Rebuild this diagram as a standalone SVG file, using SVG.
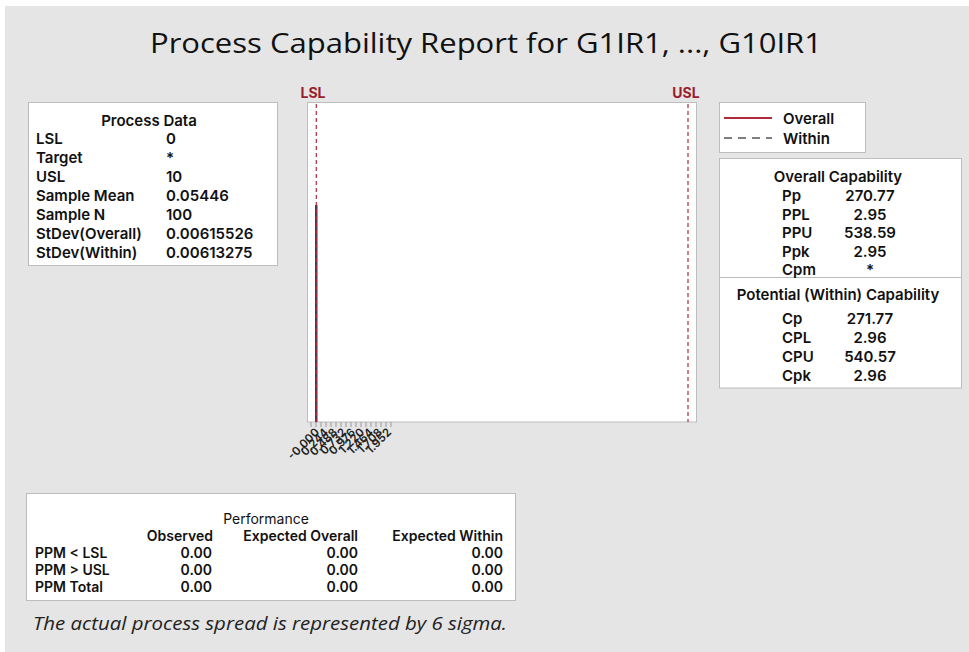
<svg xmlns="http://www.w3.org/2000/svg" width="969" height="652" viewBox="0 0 969 652">
<style>
.t{font-family:Inter,"Open Sans","Liberation Sans",sans-serif;font-weight:600;font-size:15px;fill:#111}
.p{font-size:14px}
.box{fill:#fff;stroke:#bdbdbd;stroke-width:1}
.r{text-anchor:end}
.c{text-anchor:middle}
.spec{font-family:Inter,"Open Sans","Liberation Sans",sans-serif;font-weight:700;font-size:14px;fill:#9b1c2c}
.tick{font-family:Inter,"Open Sans","Liberation Sans",sans-serif;font-weight:600;font-size:11.5px;fill:#222;text-anchor:end}
</style>
<rect x="0" y="0" width="969" height="652" fill="#fff"/>
<rect x="5" y="6" width="964" height="646" fill="#e5e5e5"/>
<text x="486" y="53" font-family="Open Sans,Noto Sans,Liberation Sans,sans-serif" font-size="28" fill="#111" text-anchor="middle" textLength="672" lengthAdjust="spacingAndGlyphs">Process Capability Report for G1IR1, ..., G10IR1</text>

<g id="process-data">
<rect class="box" x="28.5" y="102.5" width="249" height="163"/>
<text class="t c" x="149" y="126">Process Data</text>
<text class="t" x="36" y="144">LSL</text><text class="t" x="166" y="144">0</text>
<text class="t" x="36" y="163">Target</text><text class="t" x="166" y="163">*</text>
<text class="t" x="36" y="182">USL</text><text class="t" x="166" y="182">10</text>
<text class="t" x="36" y="201">Sample Mean</text><text class="t" x="166" y="201">0.05446</text>
<text class="t" x="36" y="220">Sample N</text><text class="t" x="166" y="220">100</text>
<text class="t" x="36" y="239">StDev(Overall)</text><text class="t" x="166" y="239">0.00615526</text>
<text class="t" x="36" y="258">StDev(Within)</text><text class="t" x="166" y="258">0.00613275</text>
</g>

<g id="plot">
<rect class="box" x="307.5" y="102.5" width="389" height="319.5"/>
<g stroke="#999" stroke-width="1">
<line x1="311" y1="422" x2="311" y2="427"/><line x1="316" y1="422" x2="316" y2="427"/><line x1="321" y1="422" x2="321" y2="427"/><line x1="326" y1="422" x2="326" y2="427"/><line x1="331" y1="422" x2="331" y2="427"/><line x1="336" y1="422" x2="336" y2="427"/><line x1="341" y1="422" x2="341" y2="427"/><line x1="346" y1="422" x2="346" y2="427"/><line x1="351" y1="422" x2="351" y2="427"/><line x1="356" y1="422" x2="356" y2="427"/><line x1="361" y1="422" x2="361" y2="427"/><line x1="366" y1="422" x2="366" y2="427"/><line x1="371" y1="422" x2="371" y2="427"/><line x1="376" y1="422" x2="376" y2="427"/><line x1="381" y1="422" x2="381" y2="427"/><line x1="386" y1="422" x2="386" y2="427"/><line x1="391" y1="422" x2="391" y2="427"/>
</g>
<text class="tick" transform="translate(320,433) rotate(-45)">-0.000</text>
<text class="tick" transform="translate(329,433) rotate(-45)">0.244</text>
<text class="tick" transform="translate(338,433) rotate(-45)">0.488</text>
<text class="tick" transform="translate(347,433) rotate(-45)">0.732</text>
<text class="tick" transform="translate(356,433) rotate(-45)">0.976</text>
<text class="tick" transform="translate(365,433) rotate(-45)">1.220</text>
<text class="tick" transform="translate(374,433) rotate(-45)">1.464</text>
<text class="tick" transform="translate(383,433) rotate(-45)">1.708</text>
<text class="tick" transform="translate(392,433) rotate(-45)">1.952</text>
<rect x="315" y="205" width="2.5" height="217" fill="#4a3a4a"/>
<line x1="316.3" y1="104" x2="316.3" y2="422" stroke="#b02a3c" stroke-width="1.2" stroke-dasharray="4,3"/>
<line x1="688" y1="104" x2="688" y2="422" stroke="#b02a3c" stroke-width="1.2" stroke-dasharray="4,3"/>
<text class="spec c" x="313" y="98">LSL</text>
<text class="spec c" x="686" y="98">USL</text>
</g>

<g id="legend">
<rect class="box" x="719.5" y="102.5" width="146" height="50"/>
<line x1="724" y1="118" x2="772" y2="118" stroke="#b02a3c" stroke-width="2"/>
<line x1="724" y1="138" x2="772" y2="138" stroke="#555" stroke-width="1.5" stroke-dasharray="8,6"/>
<text class="t" x="783" y="123.5">Overall</text>
<text class="t" x="783" y="143.5">Within</text>
</g>

<g id="capability">
<rect class="box" x="719.5" y="158.5" width="242" height="229.5"/>
<line x1="719.5" y1="277.5" x2="961.5" y2="277.5" stroke="#bdbdbd"/>
<text class="t c" x="838" y="182">Overall Capability</text>
<text class="t" x="782" y="201">Pp</text><text class="t c" x="870" y="201">270.77</text>
<text class="t" x="782" y="219.5">PPL</text><text class="t c" x="870" y="219.5">2.95</text>
<text class="t" x="782" y="238">PPU</text><text class="t c" x="870" y="238">538.59</text>
<text class="t" x="782" y="256.5">Ppk</text><text class="t c" x="870" y="256.5">2.95</text>
<text class="t" x="782" y="275">Cpm</text><text class="t c" x="870" y="275">*</text>
<text class="t c" x="838" y="300">Potential (Within) Capability</text>
<text class="t" x="782" y="324">Cp</text><text class="t c" x="870" y="324">271.77</text>
<text class="t" x="782" y="343">CPL</text><text class="t c" x="870" y="343">2.96</text>
<text class="t" x="782" y="362">CPU</text><text class="t c" x="870" y="362">540.57</text>
<text class="t" x="782" y="381">Cpk</text><text class="t c" x="870" y="381">2.96</text>
</g>

<g id="performance">
<rect class="box" x="26.5" y="493.5" width="489" height="107"/>
<text class="t p c" x="266" y="524" style="font-weight:400">Performance</text>
<text class="t p r" x="213" y="541">Observed</text>
<text class="t p r" x="358" y="541">Expected Overall</text>
<text class="t p r" x="503" y="541">Expected Within</text>
<text class="t p" x="35" y="558">PPM &lt; LSL</text><text class="t p r" x="212" y="558">0.00</text><text class="t p r" x="358" y="558">0.00</text><text class="t p r" x="503" y="558">0.00</text>
<text class="t p" x="35" y="575">PPM &gt; USL</text><text class="t p r" x="212" y="575">0.00</text><text class="t p r" x="358" y="575">0.00</text><text class="t p r" x="503" y="575">0.00</text>
<text class="t p" x="35" y="592">PPM Total</text><text class="t p r" x="212" y="592">0.00</text><text class="t p r" x="358" y="592">0.00</text><text class="t p r" x="503" y="592">0.00</text>
</g>

<text x="33" y="630" font-family="Open Sans,Noto Sans,Liberation Sans,sans-serif" font-style="italic" font-size="18" fill="#222" textLength="474" lengthAdjust="spacingAndGlyphs">The actual process spread is represented by 6 sigma.</text>
</svg>
